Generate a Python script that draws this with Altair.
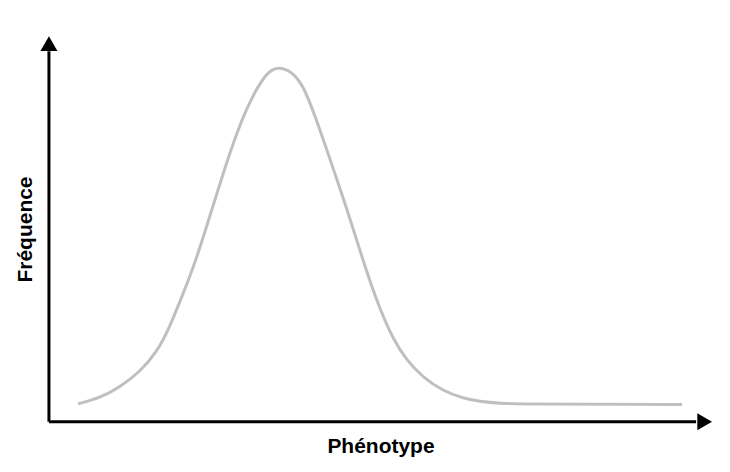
import altair as alt
import pandas as pd

# Curve (phenotype units 0-100, frequency units 0-100)
phenotype = [4.41, 7.68, 10.69, 13.70, 16.22, 18.22, 19.73, 21.23, 22.48, 23.75,
             25.00, 26.25, 27.76, 29.26, 30.53, 31.48, 32.79, 33.73, 34.68,
             35.69, 36.55, 37.50, 38.30, 39.05, 40.32, 41.82, 43.33, 44.83, 46.08,
             47.33, 48.60, 50.10, 51.85, 53.87, 56.37, 59.38, 62.40, 64.91, 67.92,
             72.44, 82.98, 95.48]
frequence = [4.66, 6.14, 8.94, 12.95, 17.88, 24.61, 31.09, 37.56, 43.65, 50.52,
             57.38, 64.25, 72.15, 79.02, 83.68, 86.79, 90.16, 91.40, 91.85,
             91.40, 90.67, 88.99, 86.92, 84.07, 78.50, 70.98, 63.34, 55.70, 48.96,
             42.10, 35.49, 28.50, 21.63, 16.06, 11.53, 8.03, 6.09, 5.26, 4.77,
             4.56, 4.53, 4.48]

x_title = "Phénotype"
y_title = "Fréquence"

# Axis extents (data units): lines end under the arrowheads
axis_end = [97.6, 96.1]
arrow_x = [98.89, 0]
arrow_y = [0, 98.08]
arrow_shape = ["triangle-right", "triangle-up"]

curve_df = pd.DataFrame({"x": phenotype, "y": frequence})
xline_df = pd.DataFrame({"x": [0], "x2": [axis_end[0]], "y": [0]})
yline_df = pd.DataFrame({"y": [0], "y2": [axis_end[1]], "x": [0]})
arrow_df = pd.DataFrame({"x": arrow_x, "y": arrow_y, "shape": arrow_shape})

xscale = alt.Scale(domain=[0, 100], nice=False, zero=False)
yscale = alt.Scale(domain=[0, 100], nice=False, zero=False)

xaxis = alt.Axis(title=x_title, labels=False, ticks=False, domain=False, grid=False,
                 titleFont="Liberation Sans", titleFontSize=21, titleFontWeight="bold",
                 titleColor="black", titlePadding=14)
yaxis = alt.Axis(title=y_title, labels=False, ticks=False, domain=False, grid=False,
                 titleFont="Liberation Sans", titleFontSize=21, titleFontWeight="bold",
                 titleColor="black", titlePadding=13)

curve = alt.Chart(curve_df).mark_line(
    color="#bfbfbf", strokeWidth=3, interpolate="basis"
).encode(
    x=alt.X("x:Q", scale=xscale, axis=xaxis),
    y=alt.Y("y:Q", scale=yscale, axis=yaxis),
)

xline = alt.Chart(xline_df).mark_rule(color="black", strokeWidth=3).encode(
    x=alt.X("x:Q", scale=xscale), x2="x2:Q", y=alt.Y("y:Q", scale=yscale)
)
yline = alt.Chart(yline_df).mark_rule(color="black", strokeWidth=3).encode(
    y=alt.Y("y:Q", scale=yscale), y2="y2:Q", x=alt.X("x:Q", scale=xscale)
)

arrows = alt.Chart(arrow_df).mark_point(
    filled=True, color="black", size=290, opacity=1
).encode(
    x=alt.X("x:Q", scale=xscale),
    y=alt.Y("y:Q", scale=yscale),
    shape=alt.Shape("shape:N", scale=None, legend=None),
)

chart = alt.layer(curve, xline, yline, arrows).properties(
    width=664, height=386,
    autosize=alt.AutoSizeParams(type="none"),
    padding={"left": 41, "top": 28, "right": 10, "bottom": 40},
    background="white",
).configure_view(stroke=None)

chart.save("out.html", embed_options={"renderer": "svg", "actions": False})
